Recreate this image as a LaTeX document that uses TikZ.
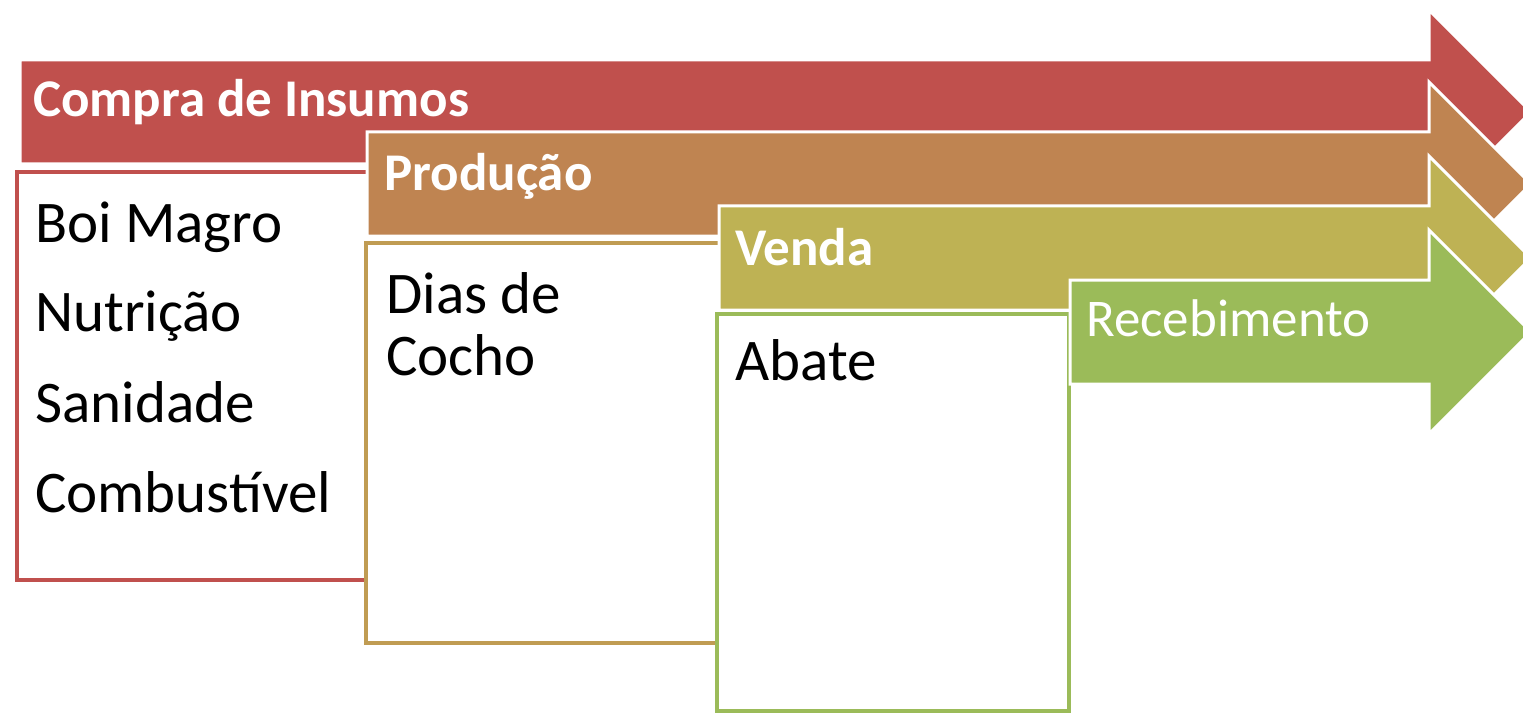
\documentclass[tikz,border=0pt]{standalone}
\usepackage{fontspec}
\setmainfont{Carlito}
\definecolor{compraRed}{HTML}{C0504D}
\definecolor{producOrange}{HTML}{BF8451}
\definecolor{vendaOlive}{HTML}{BEB254}
\definecolor{recebGreen}{HTML}{9BBB59}
\definecolor{producGold}{HTML}{C09C53}
\tikzset{
stagehead/.style={
	  inner sep=0pt, anchor=base west, text=white,
	    font=\fontsize{53}{60}\selectfont\bfseries},
stagebox/.style={
	  fill=white, line width=4.5pt},
itemtext/.style={
	  inner sep=0pt, anchor=base west,
	    font=\fontsize{59}{57}\selectfont}
}
% arrow: colour, left end of body, centre line
\newcommand{\stagearrow}[3]{
	\filldraw[fill=#1, draw=white, line width=3pt]
	(#2,#3-52) -- (1429,#3-52) -- (1429,#3-102) -- (1531,#3)
	-- (1429,#3+102) -- (1429,#3+52) -- (#2,#3+52) -- cycle;
}

\begin{document}
\begin{tikzpicture}[x=1pt, y=-1pt]
	\useasboundingbox (0,0) rectangle (1523,714);
	\clip (0,0) rectangle (1523,714);
	% Compra de Insumos
	\stagearrow{compraRed}{20}{112}
	\node[stagehead] (compra) at (33,117) {Compra de Insumos};
	\filldraw[stagebox, draw=compraRed] (380,172) -- (17,172) -- (17,580) -- (380,580);
	\node[itemtext] (boi) at (35,242) {Boi Magro};
	\node[itemtext] (nutri) at (35,331) {Nutrição};
	\node[itemtext] (sani) at (35,422) {Sanidade};
	\node[itemtext] (comb) at (35,512) {Combustível};
	% Producao
	\stagearrow{producOrange}{367}{184}
	\node[stagehead] (producao) at (384,191) {Produção};
	\filldraw[stagebox, draw=producGold] (730,243) -- (366,243) -- (366,643) -- (730,643);
	\node[itemtext] (dias) at (386,313) {Dias de};
	\node[itemtext] (cocho) at (386,375) {Cocho};
	% Venda
	\stagearrow{vendaOlive}{719}{258}
	\node[stagehead] (venda) at (735,265) {Venda};
	\draw[stagebox, draw=recebGreen] (717,314) rectangle (1069,711);
	\node[itemtext] (abate) at (735,380) {Abate};
	% Recebimento
	\stagearrow{recebGreen}{1070}{332}
	\node[stagehead, font=\fontsize{53}{60}\selectfont] (receb) at (1086,336) {Recebimento};
\end{tikzpicture}
\end{document}
